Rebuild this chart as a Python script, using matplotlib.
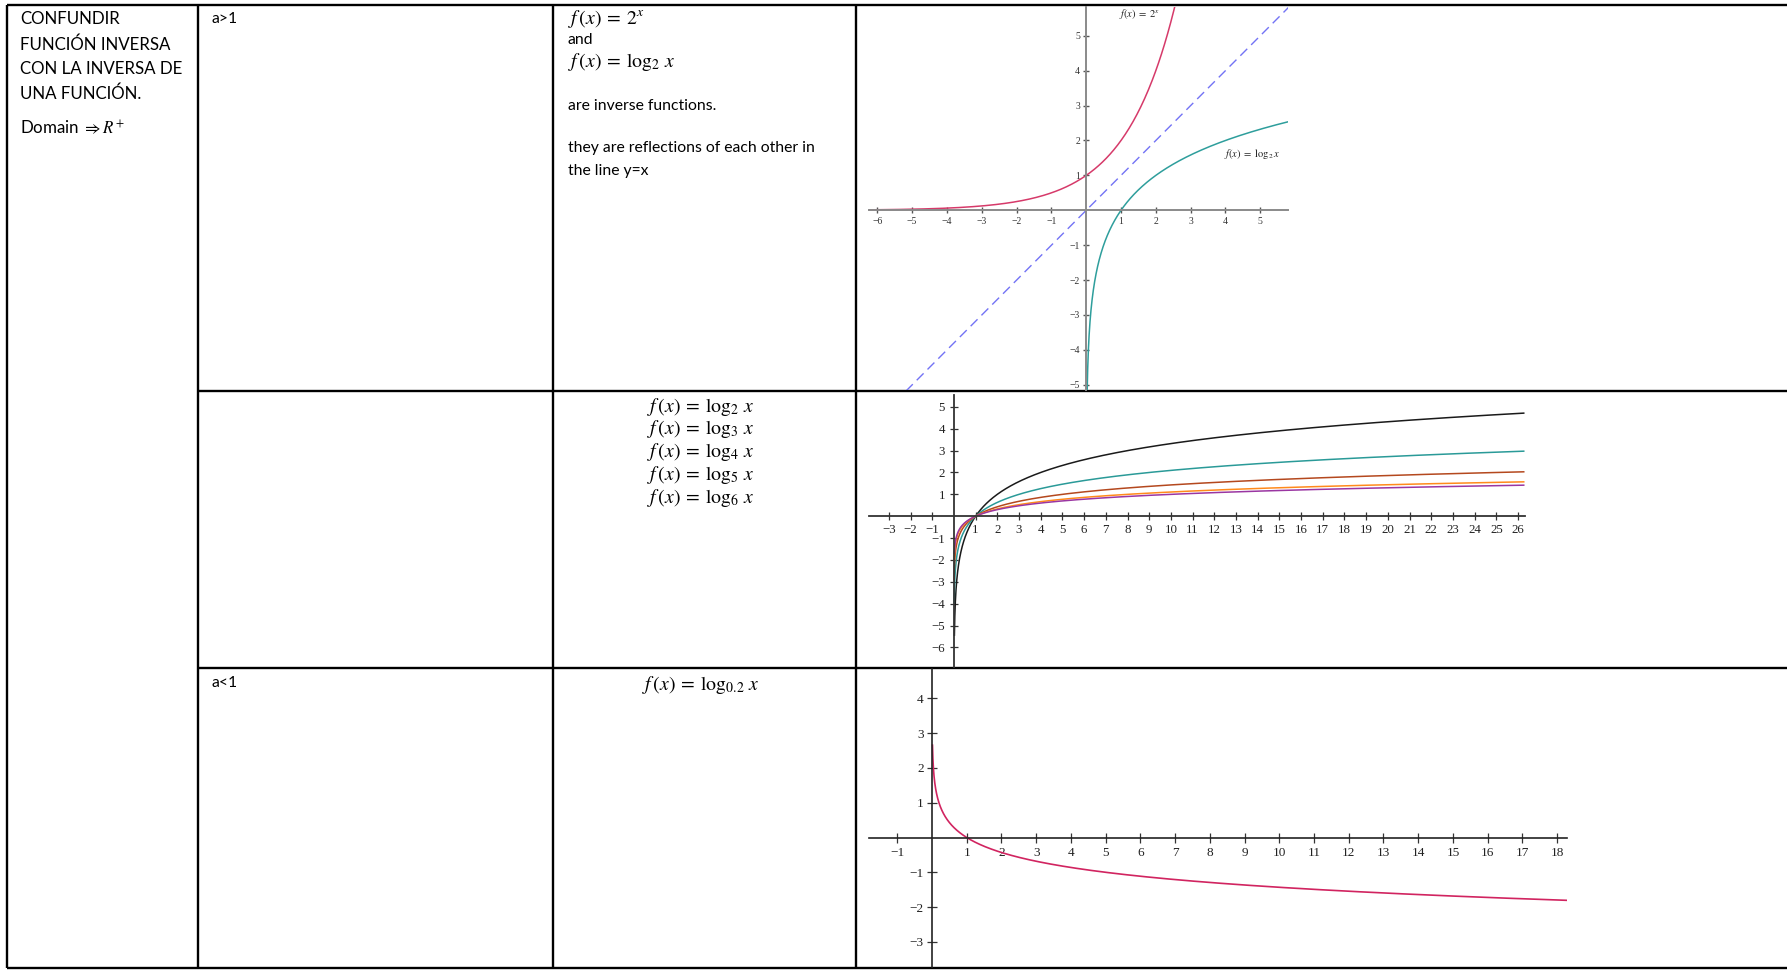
import numpy as np
import matplotlib
matplotlib.use("Agg")
import matplotlib.pyplot as plt

# ---------------- data ----------------
# column 1 text
col1_lines = ["CONFUNDIR", "FUNCIÓN INVERSA", "CON LA INVERSA DE", "UNA FUNCIÓN."]
col1_domain = r"Domain $\Rightarrow R^{+}$"
row_conditions = ["a>1", "a<1"]

# row 1 text
row1_math = [r"$f\,(x)\:=\:2^{x}$", r"$f\,(x)\:=\:\log_{2}\,x$"]
row1_text = ["and", "are inverse functions.", "they are reflections of each other in", "the line y=x"]

# row 2 formulas
row2_bases = ["2", "3", "4", "5", "6"]

# row 3 formula
row3_base = "0.2"

# plot 1: 2^x, log2 x and y = x
p1_exp_base = 2
p1_exp_x = (-6.24, 2.56)
p1_log_base = 2
p1_log_x = (0.0276, 5.82)
p1_identity = (-5.18, 5.85)
p1_xticks = [-6, -5, -4, -3, -2, -1, 1, 2, 3, 4, 5]
p1_yticks = [-5, -4, -3, -2, -1, 1, 2, 3, 4, 5]
p1_label_exp = r"$f(x)\;=\;2^{x}$"
p1_label_log = r"$f(x)\;=\;\log_{2}x$"

# plot 2: family of logarithms (bases as drawn)
p2_bases = [2, 3, 5, 8, 10]
p2_colors = ["#1a1a1a", "#2a9a98", "#b4481e", "#ff8a1c", "#9a36a2"]
p2_x_start = [0.023, 0.013, 0.0095, 0.015, 0.02]
p2_x_end = 26.26
p2_xticks = [-3, -2, -1] + list(range(1, 27))
p2_yticks = [-6, -5, -4, -3, -2, -1, 1, 2, 3, 4, 5]

# plot 3: log base 0.2
p3_base = 0.2
p3_x = (0.014, 18.3)
p3_xticks = [-1] + list(range(1, 19))
p3_yticks = [-3, -2, -1, 1, 2, 3, 4]

# ---------------- figure ----------------
W, H, DPI = 1787, 972, 100
plt.rcParams["mathtext.fontset"] = "stix"
plt.rcParams["font.family"] = ["Lato", "DejaVu Sans"]
fig = plt.figure(figsize=(W / DPI, H / DPI), dpi=DPI)
fig.patch.set_facecolor("white")

bg = fig.add_axes([0, 0, 1, 1])
bg.set_xlim(0, W)
bg.set_ylim(H, 0)
bg.axis("off")

# table grid
TL = 1.7
X0, X1, X2, X3 = 7, 198, 553, 856
Y0, Y1, Y2, Y3 = 5.5, 391, 668, 968
bg.plot([X0, W], [Y0, Y0], color="black", lw=TL, solid_capstyle="butt")
bg.plot([X0, W], [Y3, Y3], color="black", lw=TL, solid_capstyle="butt")
bg.plot([X1, W], [Y1, Y1], color="black", lw=TL, solid_capstyle="butt")
bg.plot([X1, W], [Y2, Y2], color="black", lw=TL, solid_capstyle="butt")
for xv in (X0, X1, X2, X3):
    bg.plot([xv, xv], [Y0, Y3], color="black", lw=TL, solid_capstyle="butt")

FS = 12.2
MFS = 14.2
# column 1
for txt, yy in zip(col1_lines, [19.5, 44.5, 69.5, 93.5]):
    bg.text(20.5, yy, txt, fontsize=FS, va="center", ha="left")
bg.text(20.5, 128.5, col1_domain, fontsize=FS, va="center", ha="left")
# column 2
bg.text(212, 19, row_conditions[0], fontsize=FS * 0.93, va="center", ha="left")
bg.text(212, 682.5, row_conditions[1], fontsize=FS * 0.93, va="center", ha="left")
# column 3 row 1
bg.text(567.5, 18.5, row1_math[0], fontsize=MFS, va="center", ha="left")
bg.text(567.5, 40.5, row1_text[0], fontsize=FS * 0.93, va="center", ha="left")
bg.text(567.5, 62, row1_math[1], fontsize=MFS, va="center", ha="left")
bg.text(567.5, 105.5, row1_text[1], fontsize=FS * 0.93, va="center", ha="left")
bg.text(567.5, 148, row1_text[2], fontsize=FS * 0.93, va="center", ha="left")
bg.text(567.5, 170.5, row1_text[3], fontsize=FS * 0.93, va="center", ha="left")
# row 2 formulas
for b, yy in zip(row2_bases, [406.5, 429.3, 452, 474.8, 497.6]):
    bg.text(647, yy, r"$f\,(x)\:=\:\log_{%s}\,x$" % b, fontsize=MFS, va="center", ha="left")
# row 3 formula
bg.text(641.5, 684.5, r"$f\,(x)\:=\:\log_{%s}\,x$" % row3_base, fontsize=MFS, va="center", ha="left")


def make_plot(left, top, right, bottom, ox, oy, ux, uy):
    ax = fig.add_axes([left / W, 1 - bottom / H, (right - left) / W, (bottom - top) / H])
    ax.set_xlim((left - ox) / ux, (right - ox) / ux)
    ax.set_ylim((oy - bottom) / uy, (oy - top) / uy)
    ax.patch.set_alpha(0)
    for s in ("top", "right"):
        ax.spines[s].set_visible(False)
    ax.spines["left"].set_position(("data", 0))
    ax.spines["bottom"].set_position(("data", 0))
    return ax


def lab(v):
    return ("\u2212%d" % -v) if v < 0 else "%d" % v


SERIF = "Liberation Serif"

# ---------- plot 1 ----------
ax1 = make_plot(869, 6.5, 1288, 390, 1086.2, 210.3, 34.8, 34.9)
for s in ("left", "bottom"):
    ax1.spines[s].set_color("#8a8a8a")
    ax1.spines[s].set_linewidth(1.4)
ax1.set_xticks(p1_xticks, labels=[lab(v) for v in p1_xticks])
ax1.set_yticks(p1_yticks, labels=[lab(v) for v in p1_yticks])
ax1.tick_params(direction="inout", length=5, width=1.0, color="#555555",
                labelsize=7, labelcolor="#333333", pad=2.0)
for t in ax1.get_xticklabels() + ax1.get_yticklabels():
    t.set_fontfamily(SERIF)
xe = np.linspace(*p1_exp_x, 400)
ax1.plot(xe, p1_exp_base ** xe, color="#d63a6a", lw=1.1, clip_on=True)
xl = np.geomspace(*p1_log_x, 600)
ax1.plot(xl, np.log(xl) / np.log(p1_log_base), color="#2e9e9c", lw=1.1)
xi = np.array(p1_identity)
ax1.plot(xi, xi, color="#7373f5", lw=1.0, dashes=(7, 4))
bg.text(1140, 14, p1_label_exp, fontsize=7.6, ha="center", va="center", color="#222222")
bg.text(1252, 154, p1_label_log, fontsize=7.6, ha="center", va="center", color="#222222")

# ---------- plot 2 ----------
ax2 = make_plot(869, 395, 1525, 667, 953.9, 516.2, 21.7, 21.86)
for s in ("left", "bottom"):
    ax2.spines[s].set_color("#333333")
    ax2.spines[s].set_linewidth(1.3)
ax2.set_xticks(p2_xticks, labels=[lab(v) for v in p2_xticks])
ax2.set_yticks(p2_yticks, labels=[lab(v) for v in p2_yticks])
ax2.tick_params(direction="inout", length=6.3, width=0.9, color="#333333",
                labelsize=9.3, labelcolor="#222222")
ax2.tick_params(axis="x", pad=2.3)
ax2.tick_params(axis="y", pad=3.2)
for t in ax2.get_xticklabels() + ax2.get_yticklabels():
    t.set_fontfamily(SERIF)
for b, c, xs in zip(p2_bases, p2_colors, p2_x_start):
    xx = np.geomspace(xs, p2_x_end, 800)
    ax2.plot(xx, np.log(xx) / np.log(b), color=c, lw=1.1)

# ---------- plot 3 ----------
ax3 = make_plot(869, 669, 1567, 967, 932.0, 837.5, 34.73, 34.8)
for s in ("left", "bottom"):
    ax3.spines[s].set_color("#222222")
    ax3.spines[s].set_linewidth(1.2)
ax3.set_xticks(p3_xticks, labels=[lab(v) for v in p3_xticks])
ax3.set_yticks(p3_yticks, labels=[lab(v) for v in p3_yticks])
ax3.tick_params(direction="inout", length=7.2, width=0.9, color="#333333",
                labelsize=9.5, labelcolor="#222222")
ax3.tick_params(axis="x", pad=3.2)
ax3.tick_params(axis="y", pad=2.4)
for t in ax3.get_xticklabels() + ax3.get_yticklabels():
    t.set_fontfamily(SERIF)
x3 = np.geomspace(*p3_x, 800)
ax3.plot(x3, np.log(x3) / np.log(p3_base), color="#d12460", lw=1.2)

fig.savefig("out.png", dpi=DPI, facecolor="white")
